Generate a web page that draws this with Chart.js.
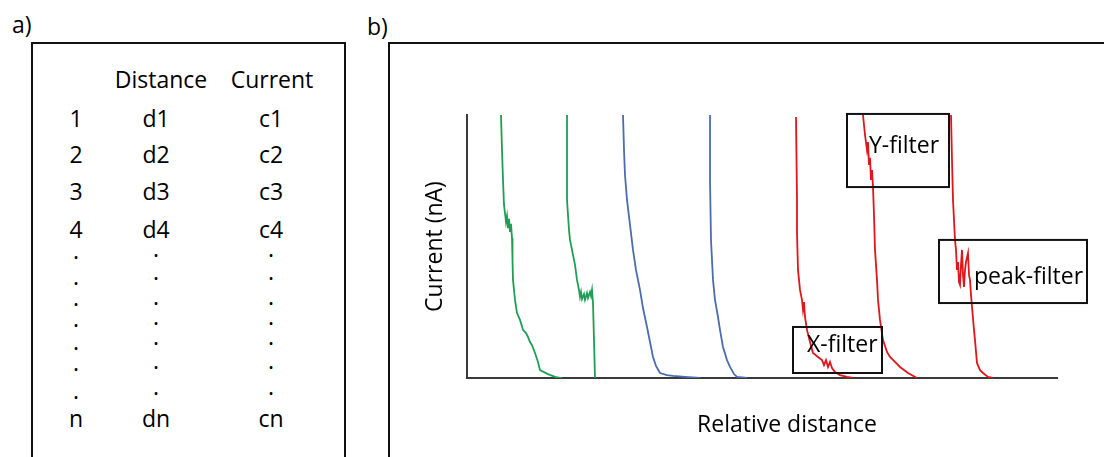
<!DOCTYPE html>
<html>
<head>
<meta charset="utf-8">
<script src="https://cdn.jsdelivr.net/npm/chart.js@4.4.1/dist/chart.umd.min.js"></script>
<style>
  html, body { margin: 0; padding: 0; background: #fff; }
  body { width: 1104px; height: 457px; position: relative; overflow: hidden; font-family: "Open Sans", sans-serif; color: #000; }
  .frame { position: absolute; border: 2px solid #111; box-sizing: border-box; }
  .txt { position: absolute; font-size: 23px; line-height: 23px; white-space: nowrap; transform: translateX(-50%); }
  .lbl { position: absolute; font-size: 23px; line-height: 23px; white-space: nowrap; }
  #chart { position: absolute; left: 0; top: 0; }
</style>
</head>
<body>
<div class="frame" style="left:31px; top:42px; width:315px; height:480px;"></div>
<div class="frame" style="left:388px; top:42px; width:760px; height:480px;"></div>
<div id="table"></div>
<canvas id="chart" width="1104" height="457"></canvas>
<script>
// panel a: table contents
const tableHeaders = ['Distance', 'Current'];
const rowLabels = ['1', '2', '3', '4'];
const distanceCol = ['d1', 'd2', 'd3', 'd4'];
const currentCol = ['c1', 'c2', 'c3', 'c4'];
const lastRow = ['n', 'dn', 'cn'];
const dotRows = 7;

// panel b: traces, [relative distance, current]
const greenTrace1 = [[6.8,100],[7.0,86.7],[7.2,75.3],[7.4,65.8],[7.6,62.7],[7.8,59.3],[8.0,61.6],[8.2,57.0],[8.4,60.5],[8.6,55.5],[8.8,58.6],[9.0,53.2],[9.1,44.9],[9.2,37.3],[9.6,29.7],[10.0,24.7],[10.6,22.1],[11.2,18.3],[11.8,17.1],[12.2,15.6],[12.6,13.7],[13.0,12.5],[13.6,9.5],[14.2,6.1],[14.6,3.0],[16.2,1.5],[17.6,0.4],[18.6,0],[19.0,0]];
const greenTrace2 = [[20.0,100],[20.0,67.7],[20.4,56.3],[20.6,52.5],[21.2,46.8],[21.6,43.0],[22.0,37.3],[22.4,33.5],[22.6,30.8],[22.8,32.7],[23.0,30.0],[23.4,31.9],[23.6,29.7],[24.0,32.3],[24.2,30.4],[24.6,32.7],[24.8,31.2],[25.0,33.5],[25.2,28.5],[25.4,14.4],[25.6,0]];
const blueTrace1 = [[31.2,100],[31.4,86.7],[31.6,77.2],[32.0,67.7],[32.6,58.2],[33.2,48.7],[33.8,41.1],[34.6,33.5],[35.2,26.6],[36.0,19.4],[36.6,13.7],[37.2,8.0],[37.8,4.6],[38.6,1.9],[40.0,1.1],[41.2,0.8],[43.6,0.4],[46.6,0]];
const blueTrace2 = [[48.6,100],[48.6,75.3],[48.8,52.5],[49.2,37.3],[49.6,29.7],[50.2,23.2],[50.6,18.3],[51.2,11.8],[52.0,6.8],[52.6,4.2],[53.4,1.5],[54.0,0.4],[56.0,0]];
const redTrace1 = [[65.8,99.2],[66.0,67.7],[66.0,55.1],[66.2,41.1],[66.6,33.5],[67.0,29.7],[67.2,25.9],[67.4,28.9],[67.6,23.2],[68.0,18.3],[68.6,13.7],[69.2,9.5],[70.2,8.0],[71.0,6.8],[71.4,4.9],[71.8,6.8],[72.2,4.2],[72.6,6.1],[73.0,3.8],[73.6,2.3],[74.6,1.1],[76.0,0.4],[77.2,0]];
const redTrace2 = [[79.2,100],[79.6,92.4],[80.0,86.7],[80.2,89.7],[80.4,81.0],[80.6,83.7],[80.8,75.3],[81.0,79.1],[81.2,72.6],[81.4,62.0],[81.6,48.7],[82.0,37.3],[82.2,29.7],[82.6,22.1],[83.2,14.4],[84.0,9.9],[84.6,8.0],[85.6,6.1],[86.6,4.2],[88.2,1.9],[90.0,0]];
const redTrace3 = [[96.8,100],[97.0,82.9],[97.2,67.7],[97.6,52.5],[97.8,48.7],[98.0,41.1],[98.2,44.1],[98.4,36.5],[98.6,35.4],[98.8,43.0],[99.0,48.7],[99.2,39.2],[99.4,34.6],[99.6,41.1],[99.8,44.1],[100.2,47.5],[100.4,39.2],[100.6,37.3],[100.8,31.6],[101.0,27.0],[101.4,18.3],[101.6,14.4],[102.0,5.7],[102.6,3.0],[103.2,1.9],[104.2,0.4],[105.2,0]];

const filterLabels = ['Y-filter', 'peak-filter', 'X-filter'];

// build table (HTML text)
const table = document.getElementById('table');
const ASC = 20.4;
function put(text, cx, baseline, cls) {
  const d = document.createElement('div');
  d.className = cls || 'txt';
  d.textContent = text;
  d.style.left = cx + 'px';
  d.style.top = (baseline - ASC) + 'px';
  table.appendChild(d);
}
put('a)', 12, 33, 'lbl');
put('b)', 367, 35, 'lbl');
put(tableHeaders[0], 161, 88);
put(tableHeaders[1], 272, 88);
const colX = [76, 156, 271];
const rowBase = [127, 163, 200, 238];
rowLabels.forEach((r, i) => {
  put(r, colX[0], rowBase[i]);
  put(distanceCol[i], colX[1], rowBase[i]);
  put(currentCol[i], colX[2], rowBase[i]);
});
const dotBase1 = [259, 285, 306, 327, 350, 371, 399];
const dotBase2 = [257, 280, 305, 325, 345, 369, 395];
for (let i = 0; i < dotRows; i++) {
  put('.', colX[0], dotBase1[i]);
  put('.', colX[1], dotBase2[i]);
  put('.', colX[2], dotBase2[i]);
}
lastRow.forEach((t, i) => put(t, colX[i], 427));

// panel b chart
const traces = [
  { pts: greenTrace1, color: '#1f9e55' },
  { pts: greenTrace2, color: '#1f9e55' },
  { pts: blueTrace1, color: '#4a6db0' },
  { pts: blueTrace2, color: '#4a6db0' },
  { pts: redTrace1, color: '#e0161b' },
  { pts: redTrace2, color: '#e0161b' },
  { pts: redTrace3, color: '#e0161b' }
];

const filterBoxes = [
  { x0: 76.0, x1: 96.4, y0: 72.6, y1: 100.4, tx: 80.4, ty: 85.6 },
  { x0: 94.4, x1: 124.0, y0: 28.5, y1: 52.5, tx: 101.4, ty: 35.7 },
  { x0: 65.2, x1: 83.0, y0: 1.9, y1: 19.4, tx: 68.0, ty: 9.9 }
];

const boxPlugin = {
  id: 'filterBoxes',
  afterDatasetsDraw(chart) {
    const { ctx, scales: { x, y }, chartArea } = chart;
    ctx.save();
    ctx.strokeStyle = '#111';
    ctx.lineWidth = 2;
    ctx.fillStyle = '#000';
    ctx.font = '23px "Open Sans"';
    ctx.textBaseline = 'alphabetic';
    filterBoxes.forEach((b, i) => {
      const l = x.getPixelForValue(b.x0), r = x.getPixelForValue(b.x1);
      const t = y.getPixelForValue(b.y1), bt = y.getPixelForValue(b.y0);
      ctx.strokeRect(l, t, r - l, bt - t);
      ctx.fillText(filterLabels[i], x.getPixelForValue(b.tx), y.getPixelForValue(b.ty));
    });
    // x axis title
    ctx.textAlign = 'center';
    ctx.fillText('Relative distance', x.getPixelForValue(64), chartArea.bottom + 54);
    ctx.restore();
  }
};

const axisBorder = { display: true, color: '#3a3a3a', width: 2 };

new Chart(document.getElementById('chart'), {
  type: 'scatter',
  data: {
    datasets: traces.map(t => ({
      data: t.pts.map(([x, y]) => ({ x, y })),
      borderColor: t.color,
      borderWidth: 1.8,
      showLine: true,
      pointRadius: 0,
      tension: 0,
      fill: false
    }))
  },
  options: {
    responsive: false,
    animation: false,
    devicePixelRatio: 1,
    layout: { padding: { left: 421.2, top: 115, right: 47, bottom: 79 } },
    plugins: { legend: { display: false }, tooltip: { enabled: false } },
    scales: {
      x: {
        type: 'linear', min: 0, max: 118,
        ticks: { display: false },
        grid: { display: false, drawTicks: false },
        border: axisBorder
      },
      y: {
        type: 'linear', min: 0, max: 100,
        ticks: { display: false },
        grid: { display: false, drawTicks: false },
        border: axisBorder,
        title: {
          display: true, text: 'Current (nA)', color: '#000',
          font: { family: '"Open Sans"', size: 23 },
          padding: { top: 0, bottom: 18.2 }
        }
      }
    }
  },
  plugins: [boxPlugin]
});
</script>
</body>
</html>
